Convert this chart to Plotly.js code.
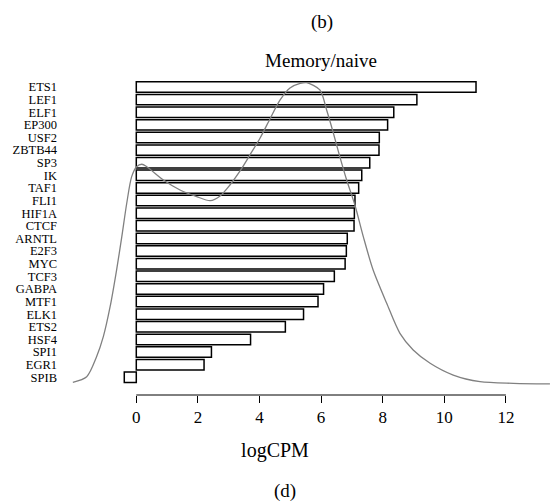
<!DOCTYPE html>
<html>
<head>
<meta charset="utf-8">
<script src="https://cdn.plot.ly/plotly-3.0.1.min.js"></script>
<style>html,body{margin:0;padding:0;background:#fff;}#chart{width:550px;height:501px;}</style>
</head>
<body>
<div id="chart"></div>
<script>
// Transcription factors (top to bottom) and their logCPM values
const genes = ["ETS1","LEF1","ELF1","EP300","USF2","ZBTB44","SP3","IK","TAF1","FLI1","HIF1A","CTCF","ARNTL","E2F3","MYC","TCF3","GABPA","MTF1","ELK1","ETS2","HSF4","SPI1","EGR1","SPIB"];
const logCPM = [11.03,9.11,8.36,8.16,7.89,7.88,7.58,7.32,7.22,7.10,7.08,7.07,6.85,6.82,6.78,6.43,6.08,5.90,5.43,4.84,3.71,2.44,2.20,-0.39];

// Density curve of logCPM (background distribution)
const densX = [-2.06,-1.61,-1.29,-1.07,-0.85,-0.64,-0.47,-0.31,-0.15,0.01,0.18,0.34,0.88,1.42,1.96,2.40,2.72,3.04,3.37,3.69,4.02,4.34,4.67,4.99,5.32,5.53,5.96,6.18,6.40,6.61,6.83,7.10,7.37,7.69,8.13,8.56,8.99,9.54,10.29,11.16,12.24,13.32,13.43];
const densY = [0.0018,0.0055,0.0187,0.032,0.0518,0.0761,0.0982,0.1203,0.1379,0.1445,0.1461,0.1445,0.1357,0.1291,0.1247,0.1220,0.1251,0.1324,0.1417,0.1523,0.1635,0.1761,0.1887,0.1966,0.1996,0.2001,0.1953,0.182,0.1666,0.151,0.1357,0.119,0.0982,0.0761,0.0541,0.0342,0.0232,0.0144,0.0066,0.0022,0.0011,0.0007,0.0007];

const xTicks = [0,2,4,6,8,10,12];

const serif = "Liberation Serif, Times New Roman, serif";

const traces = [
  {
    type: "bar",
    orientation: "h",
    x: logCPM,
    y: genes,
    width: 0.83,
    marker: {color: "#ffffff", line: {color: "#000000", width: 1.5}},
    hoverinfo: "x+y",
    showlegend: false
  },
  {
    type: "scatter",
    mode: "lines",
    x: densX,
    y: densY,
    yaxis: "y2",
    line: {color: "#808080", width: 1.3, shape: "spline", smoothing: 0.8},
    hoverinfo: "skip",
    showlegend: false
  }
];

const layout = {
  width: 550,
  height: 501,
  margin: {l: 0, r: 0, t: 70, b: 106},
  paper_bgcolor: "#ffffff",
  plot_bgcolor: "rgba(0,0,0,0)",
  font: {family: serif, color: "#000000"},
  title: {
    text: "Memory/naive",
    font: {family: serif, size: 19, color: "#000"},
    x: 321/550, xanchor: "center",
    y: 1 - 60/501, yanchor: "middle", yref: "container"
  },
  xaxis: {
    range: [-4.425, 13.432],
    domain: [0, 1],
    tickvals: xTicks,
    ticktext: xTicks.map(String),
    ticks: "outside",
    ticklen: 7,
    tickwidth: 1,
    tickcolor: "#000",
    showline: false,
    showgrid: false,
    zeroline: false,
    automargin: true,
    tickfont: {family: serif, size: 17, color: "#000"},
    title: {text: "logCPM", font: {family: serif, size: 20, color: "#000"}, standoff: 16}
  },
  yaxis: {
    type: "category",
    categoryorder: "array",
    categoryarray: genes,
    tickmode: "array",
    tickvals: genes,
    ticktext: genes,
    range: [24.4, -1.347],
    anchor: "free",
    position: 57/550,
    showline: false,
    showgrid: false,
    zeroline: false,
    ticks: "",
    tickfont: {family: serif, size: 12.5, color: "#000"}
  },
  yaxis2: {
    overlaying: "y",
    range: [-0.00662, 0.2085],
    visible: false,
    showgrid: false,
    zeroline: false
  },
  shapes: [
    {type: "line", xref: "x", yref: "paper", x0: xTicks[0], x1: xTicks[xTicks.length-1], y0: 0, y1: 0, line: {color: "#000", width: 1}}
  ],
  annotations: [
    {text: "(b)", xref: "paper", yref: "paper", x: 322/550, y: (395-22)/325, showarrow: false, font: {family: serif, size: 19, color: "#000"}, xanchor: "center", yanchor: "middle"},
    {text: "(d)", xref: "paper", yref: "paper", x: 285/550, y: (395-491)/325, showarrow: false, font: {family: serif, size: 19, color: "#000"}, xanchor: "center", yanchor: "middle"}
  ]
};

Plotly.newPlot("chart", traces, layout, {displayModeBar: false, staticPlot: true});
</script>
</body>
</html>
